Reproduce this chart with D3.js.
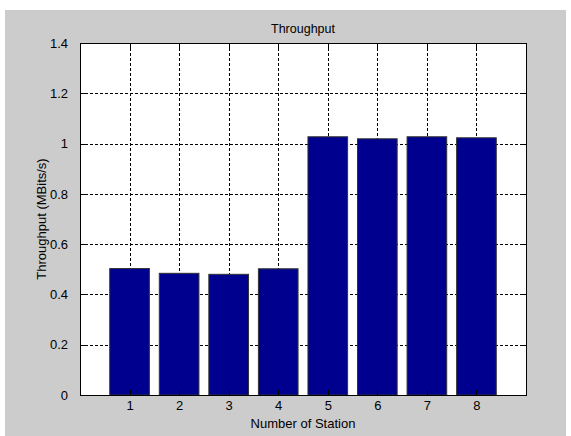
<!DOCTYPE html>
<html><head><meta charset="utf-8">
<script src="https://cdn.jsdelivr.net/npm/d3@7/dist/d3.min.js"></script>
<style>body{margin:0;background:#fff}</style>
</head><body>
<script>
const stations = [1,2,3,4,5,6,7,8];
const throughput = [0.503, 0.484, 0.480, 0.502, 1.027, 1.019, 1.027, 1.023];
const yTicks = [0,0.2,0.4,0.6,0.8,1,1.2,1.4];
const yTickLabels = ["0","0.2","0.4","0.6","0.8","1","1.2","1.4"];
const titleText = "Throughput";
const xLabel = "Number of Station";
const yLabel = "Throughput (MBits/s)";

const W = 571, H = 436;
const FF = "Arial, 'Liberation Sans', sans-serif";
const svg = d3.select("body").append("svg").attr("width", W).attr("height", H)
  .style("font-family", FF);
svg.append("rect").attr("x",5).attr("y",10).attr("width",561).attr("height",426).attr("fill","#cccccc");

const L=80, R=526, T=43, B=395;
const x = d3.scaleLinear().domain([0,9]).range([L,R]);
const y = d3.scaleLinear().domain([0,1.4]).range([B,T]);

svg.append("rect").attr("x",L).attr("y",T).attr("width",R-L).attr("height",B-T).attr("fill","#fff");

// grid
const g = svg.append("g").attr("stroke","#000").attr("stroke-width",1).attr("stroke-dasharray","3,2").attr("shape-rendering","crispEdges");
stations.forEach(s => g.append("line").attr("x1",Math.round(x(s))+0.5).attr("x2",Math.round(x(s))+0.5).attr("y1",T).attr("y2",B));
yTicks.slice(1,-1).forEach(v => g.append("line").attr("x1",L).attr("x2",R).attr("y1",Math.round(y(v))+0.5).attr("y2",Math.round(y(v))+0.5));

// bars
const bw = 0.8;
svg.append("g").selectAll("rect").data(stations).join("rect")
  .attr("x", (d)=>x(d-bw/2))
  .attr("width", x(bw)-x(0))
  .attr("y", (d,i)=>y(throughput[i]))
  .attr("height", (d,i)=>y(0)-y(throughput[i]))
  .attr("fill","#00008f").attr("stroke","#333").attr("stroke-width",1);

// axes
const ax = d3.axisBottom(x).tickValues(stations).tickFormat(d3.format("d")).tickSize(5).tickPadding(6);
const xg = svg.append("g").attr("transform",`translate(0,${B})`).call(ax);
const ay = d3.axisLeft(y).tickValues(yTicks).tickFormat((d,i)=>yTickLabels[i]).tickSize(5).tickPadding(7);
const yg = svg.append("g").attr("transform",`translate(${L},0)`).call(ay);
[xg,yg].forEach(a=>{
  a.select(".domain").remove();
  a.selectAll(".tick line").remove();
  a.selectAll("text").attr("font-size",13).attr("fill","#000").attr("font-family",FF);
});
xg.selectAll(".tick text").attr("dy","0.71em").attr("y",6);
// ticks inside box
const tk = svg.append("g").attr("stroke","#000").attr("shape-rendering","crispEdges");
stations.forEach(s=>{
  tk.append("line").attr("x1",Math.round(x(s))+0.5).attr("x2",Math.round(x(s))+0.5).attr("y1",B).attr("y2",B-5);
  tk.append("line").attr("x1",Math.round(x(s))+0.5).attr("x2",Math.round(x(s))+0.5).attr("y1",T).attr("y2",T+5);
});
yTicks.forEach(v=>{
  tk.append("line").attr("x1",L).attr("x2",L+5).attr("y1",Math.round(y(v))+0.5).attr("y2",Math.round(y(v))+0.5);
  tk.append("line").attr("x1",R).attr("x2",R-5).attr("y1",Math.round(y(v))+0.5).attr("y2",Math.round(y(v))+0.5);
});
svg.append("rect").attr("x",L+0.5).attr("y",T+0.5).attr("width",R-L).attr("height",B-T)
  .attr("fill","none").attr("stroke","#000").attr("shape-rendering","crispEdges");

svg.append("text").attr("x",(L+R)/2).attr("y",33).attr("text-anchor","middle").attr("font-size",12.5).text(titleText);
svg.append("text").attr("x",(L+R)/2).attr("y",428).attr("text-anchor","middle").attr("font-size",13).text(xLabel);
svg.append("text").attr("transform",`translate(46,${(T+B)/2}) rotate(-90)`).attr("text-anchor","middle").attr("font-size",13).text(yLabel);
</script>
</body></html>
